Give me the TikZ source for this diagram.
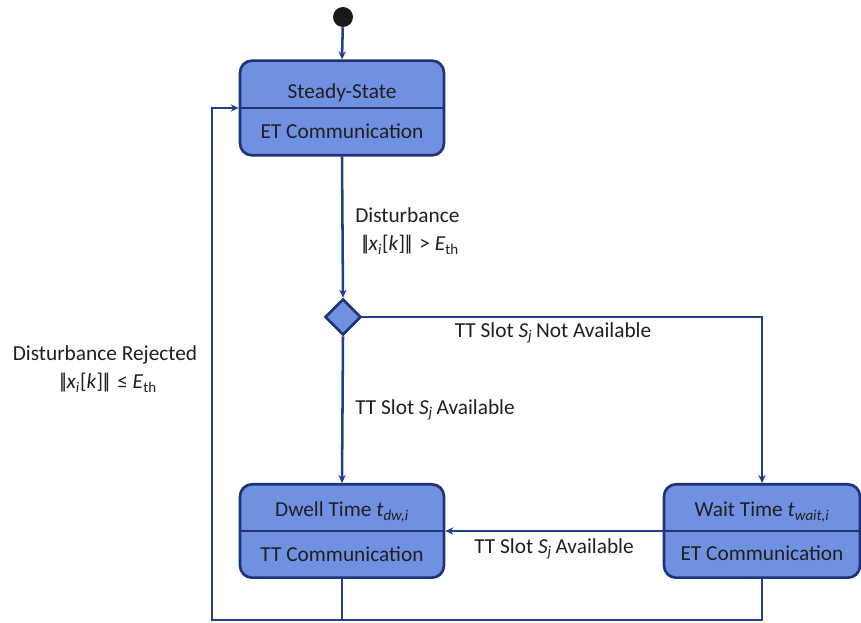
\documentclass[tikz,border=0pt]{standalone}
\usepackage{fontspec}
\setmainfont{Carlito}
\usetikzlibrary{shapes.geometric,arrows.meta}
\definecolor{boxfill}{RGB}{112,144,226}
\definecolor{boxline}{RGB}{30,52,118}
\definecolor{lineblue}{RGB}{34,62,142}
\newcommand\mysub[1]{\textsubscript{#1}}
\newcommand\dbarL{|\kern-0.36em|\kern-0.12em}
\newcommand\dbarR{\kern-0.12em|\kern-0.36em|}
\begin{document}
\begin{tikzpicture}[x=0.75pt,y=-0.75pt,
  statebox/.style={draw=boxline,fill=boxfill,line width=2pt,rounded corners=9pt,
    minimum width=#1,minimum height=71pt,inner sep=0pt},
  conn/.style={draw=lineblue,line width=1.9pt,-{Stealth[length=6pt,width=5.5pt]}},
  plain/.style={draw=lineblue,line width=1.9pt},
  lbl/.style={font=\fontsize{16}{19}\selectfont,inner sep=0pt,text=black!88},
  every node/.append style={font=\fontsize{16}{19}\selectfont}]
\useasboundingbox (0,0) rectangle (861,623);
% initial
\node[circle,fill=black!90,minimum size=15pt,inner sep=0pt] (init) at (343,17) {};
% states
\node[statebox=153pt] (ss) at (342,108) {};
\draw[boxline,line width=1.7pt] (ss.west) -- (ss.east);
\node[lbl] (ss1) at (342,93) {Steady-State};
\node[lbl] (ss2) at (342,131) {ET Communication};
\node[statebox=153pt,minimum height=70pt] (dw) at (342,531) {};
\draw[boxline,line width=1.7pt] (dw.west) -- (dw.east);
\node[lbl] (dw1) at (342,512) {Dwell Time \textit{t}\mysub{\textit{dw,i}}};
\node[lbl] (dw2) at (342,554) {TT Communication};
\node[statebox=147pt,minimum height=70pt] (wt) at (762,531) {};
\draw[boxline,line width=1.7pt] (wt.west) -- (wt.east);
\node[lbl] (wt1) at (762,512) {Wait Time \textit{t}\mysub{\textit{wait,i}}};
\node[lbl] (wt2) at (762,553) {ET Communication};
% decision
\node[diamond,aspect=1,draw=boxline,fill=boxfill,line width=2pt,minimum width=27pt,minimum height=27pt,inner sep=0pt] (dec) at (343,317) {};
\coordinate (corner) at (212,620);
% connectors
\draw[conn] (init) -- (ss.north);
\draw[conn] (ss.south) -- (dec.north);
\draw[conn] (dec.south) -- (dw.north);
\draw[conn] (dec.east) -| (wt.north);
\draw[conn] (wt.west) -- (dw.east);
\draw[plain] (dw.south) -- (dw.south |- corner);
\draw[conn] (wt.south) |- (corner) |- (ss.west);
% labels
\node[lbl,anchor=west] (l1) at (355,215) {Disturbance};
\node[lbl,anchor=west] (l2) at (359,245) {\dbarL\textit{x}\mysub{\textit{i}}[\textit{k}]\dbarR{} > \textit{E}\mysub{th}};
\node[lbl] (l3) at (553,333) {TT Slot \textit{S}\mysub{\textit{j}}\,Not Available};
\node[lbl,anchor=west] (l4) at (355,410) {TT Slot \textit{S}\mysub{\textit{j}}\,Available};
\node[lbl] (l5) at (554,549) {TT Slot \textit{S}\mysub{\textit{j}}\,Available};
\node[lbl] (l6) at (105,355) {Disturbance Rejected};
\node[lbl] (l7) at (107,383) {\dbarL\textit{x}\mysub{\textit{i}}[\textit{k}]\dbarR{} ≤ \textit{E}\mysub{th}};
\end{tikzpicture}
\end{document}
